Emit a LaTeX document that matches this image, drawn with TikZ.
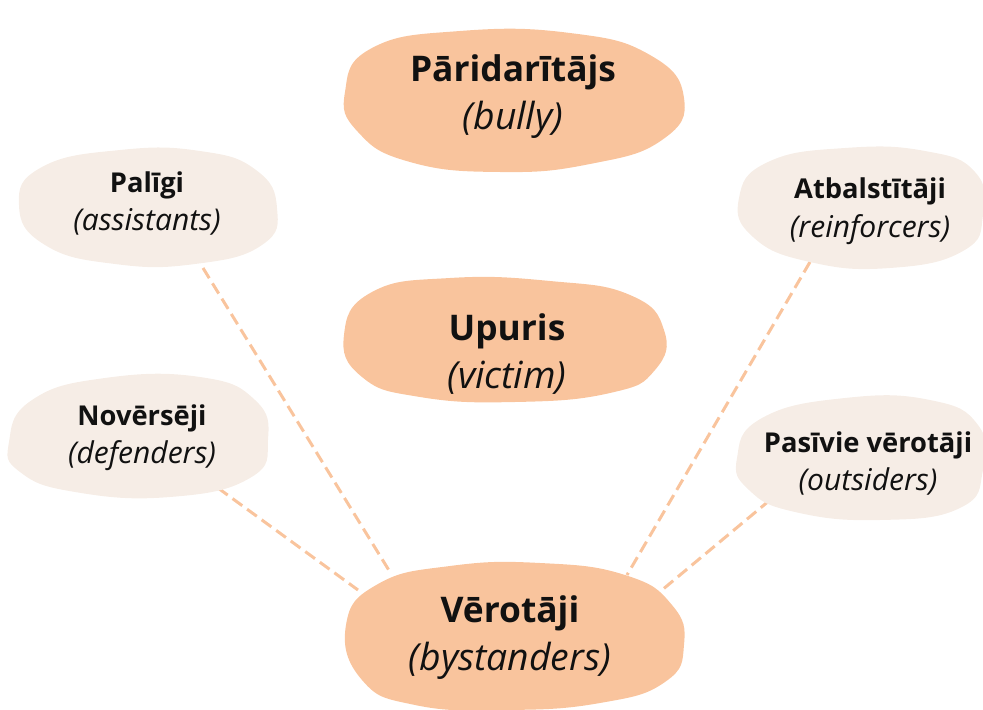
\documentclass[tikz,border=0pt]{standalone}
\usepackage{fontspec}
\setmainfont{Open Sans}
\definecolor{peach}{HTML}{F9C49D}
\definecolor{cream}{HTML}{F6EDE6}
\definecolor{dashc}{HTML}{F9C49D}
\definecolor{ink}{HTML}{111111}
\newcommand\BigLbl[2]{{\fontsize{26.5}{36}\selectfont\bfseries #1}\\{\fontsize{28}{36}\selectfont\itshape #2}}
\newcommand\SmallLbl[2]{{\fontsize{20.5}{28.5}\selectfont\bfseries #1}\\{\fontsize{22.5}{28.5}\selectfont\itshape #2}}
\begin{document}
\begin{tikzpicture}[x=0.75pt,y=-0.75pt,
  bigblob/.style={fill=peach},
  smallblob/.style={fill=cream},
  link/.style={draw=dashc, line width=2.25pt, dash pattern=on 9pt off 4.5pt},
  biglabel/.style={align=center, text=ink, inner sep=0pt, anchor=base, font=\fontsize{26.5}{36}\selectfont},
  smalllabel/.style={align=center, text=ink, inner sep=0pt, anchor=base, font=\fontsize{20.5}{28.5}\selectfont}]
\useasboundingbox (0,0) rectangle (983,710);
% connector end points
\coordinate (pa) at (203,268); \coordinate (pb) at (390,572);
\coordinate (na) at (218,488); \coordinate (nb) at (358,590);
\coordinate (aa) at (810,262); \coordinate (ab) at (627,575);
\coordinate (sa) at (770,500); \coordinate (sb) at (662,590);
\draw[link] (pa) -- (pb);
\draw[link] (na) -- (nb);
\draw[link] (aa) -- (ab);
\draw[link] (sa) -- (sb);
% blobs
\fill[bigblob] plot[smooth cycle, tension=0.8] coordinates {(345,92) (372,48) (460,31) (570,33) (650,55) (684,98) (662,140) (590,164) (500,172) (410,162) (358,132)};
\fill[bigblob] plot[smooth cycle, tension=0.8] coordinates {(344,335) (372,292) (450,278) (550,281) (630,295) (664,330) (655,370) (610,393) (515,402) (420,397) (362,377)};
\fill[bigblob] plot[smooth cycle, tension=0.8] coordinates {(346,625) (378,584) (450,566) (540,563) (625,575) (672,605) (684,645) (665,682) (600,703) (505,710) (415,705) (362,680)};
\fill[smallblob] plot[smooth cycle, tension=0.8] coordinates {(19,205) (42,167) (120,150) (200,151) (256,170) (277,208) (262,245) (195,264) (115,264) (45,245)};
\fill[smallblob] plot[smooth cycle, tension=0.8] coordinates {(739,198) (768,162) (845,148) (925,151) (975,172) (983,215) (963,251) (890,268) (810,262) (753,237)};
\fill[smallblob] plot[smooth cycle, tension=0.8] coordinates {(9,442) (32,400) (105,378) (200,377) (255,400) (268,440) (250,478) (170,497) (75,492) (20,472)};
\fill[smallblob] plot[smooth cycle, tension=0.8] coordinates {(737,458) (762,418) (845,398) (930,400) (978,425) (983,470) (960,508) (880,520) (795,512) (749,490)};
% labels (anchored at baseline of the last line)
\node[biglabel] (bully) at (513,130) {\BigLbl{Pāridarītājs}{(bully)}};
\node[biglabel] (victim) at (507,388) {\BigLbl{Upuris}{(victim)}};
\node[biglabel] (bystanders) at (510,670) {\BigLbl{Vērotāji}{(bystanders)}};
\node[smalllabel] (assistants) at (147,230) {\SmallLbl{Palīgi}{(assistants)}};
\node[smalllabel] (reinforcers) at (870,237) {\SmallLbl{Atbalstītāji}{(reinforcers)}};
\node[smalllabel] (defenders) at (142,463) {\SmallLbl{Novērsēji}{(defenders)}};
\node[smalllabel] (outsiders) at (868,490) {\SmallLbl{Pasīvie vērotāji}{(outsiders)}};
\end{tikzpicture}
\end{document}
